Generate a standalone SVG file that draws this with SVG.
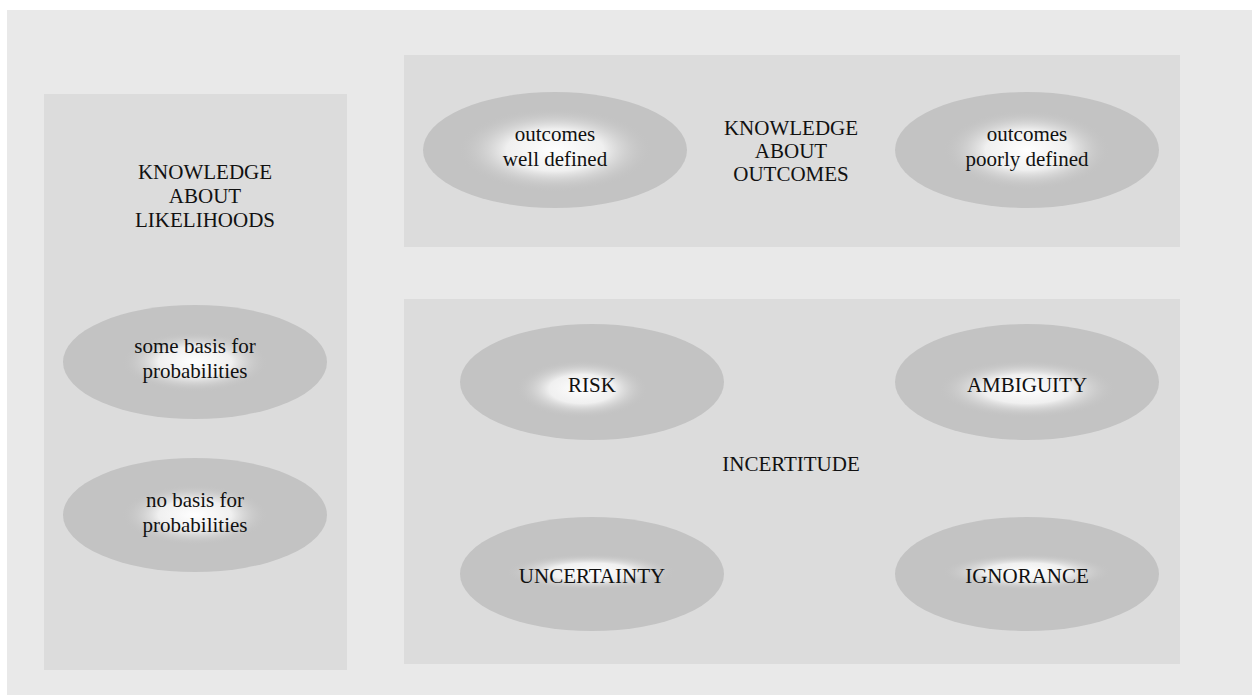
<svg xmlns="http://www.w3.org/2000/svg" width="1252" height="695" viewBox="0 0 1252 695">
  <style>
    .panel { fill: #dcdcdc; }
    .oval { fill: #c3c3c3; }
    .glow { fill: url(#glow); }
    .label { font-family: 'Liberation Serif', 'DejaVu Serif', serif; font-size: 21px; fill: #111; text-anchor: middle; }
  </style>
  <defs>
    <radialGradient id="glow" cx="0.5" cy="0.5" r="0.5">
      <stop offset="0" stop-color="#ffffff" stop-opacity="1"/>
      <stop offset="0.5" stop-color="#f2f2f2" stop-opacity="0.95"/>
      <stop offset="1" stop-color="#c3c3c3" stop-opacity="0"/>
    </radialGradient>
  </defs>

  <!-- backdrop -->
  <rect x="7" y="10" width="1245" height="685" fill="#e9e9e9"/>

  <!-- panels -->
  <g id="panel-likelihoods">
    <rect class="panel" x="44" y="94" width="303" height="576"/>
    <text class="label" x="205" y="179">KNOWLEDGE</text>
    <text class="label" x="205" y="203">ABOUT</text>
    <text class="label" x="205" y="227">LIKELIHOODS</text>
  </g>
  <g id="panel-outcomes">
    <rect class="panel" x="404" y="55" width="776" height="192"/>
    <text class="label" x="791" y="135">KNOWLEDGE</text>
    <text class="label" x="791" y="158">ABOUT</text>
    <text class="label" x="791" y="181">OUTCOMES</text>
  </g>
  <g id="panel-incertitude">
    <rect class="panel" x="404" y="299" width="776" height="365"/>
    <text class="label" x="791" y="471">INCERTITUDE</text>
  </g>

  <!-- outcome nodes -->
  <g id="outcomes-well-defined">
    <ellipse class="oval" cx="555" cy="150" rx="132" ry="58"/>
    <rect class="glow" x="458" y="108" width="194" height="84"/>
    <text class="label" x="555" y="141">outcomes</text>
    <text class="label" x="555" y="166">well defined</text>
  </g>
  <g id="outcomes-poorly-defined">
    <ellipse class="oval" cx="1027" cy="150" rx="132" ry="58"/>
    <rect class="glow" x="944" y="110" width="166" height="80"/>
    <text class="label" x="1027" y="141">outcomes</text>
    <text class="label" x="1027" y="166">poorly defined</text>
  </g>

  <!-- likelihood nodes -->
  <g id="some-basis">
    <ellipse class="oval" cx="195" cy="362" rx="132" ry="57"/>
    <rect class="glow" x="122" y="332" width="146" height="60"/>
    <text class="label" x="195" y="353">some basis for</text>
    <text class="label" x="195" y="378">probabilities</text>
  </g>
  <g id="no-basis">
    <ellipse class="oval" cx="195" cy="515" rx="132" ry="57"/>
    <rect class="glow" x="122" y="485" width="146" height="60"/>
    <text class="label" x="195" y="507">no basis for</text>
    <text class="label" x="195" y="532">probabilities</text>
  </g>

  <!-- incertitude nodes -->
  <g id="risk">
    <ellipse class="oval" cx="592" cy="382" rx="132" ry="58"/>
    <rect class="glow" x="516" y="360" width="132" height="58"/>
    <text class="label" x="592" y="392">RISK</text>
  </g>
  <g id="ambiguity">
    <ellipse class="oval" cx="1027" cy="382" rx="132" ry="58"/>
    <rect class="glow" x="938" y="360" width="178" height="58"/>
    <text class="label" x="1027" y="392">AMBIGUITY</text>
  </g>
  <g id="uncertainty">
    <ellipse class="oval" cx="592" cy="574" rx="132" ry="57"/>
    <rect class="glow" x="506" y="554" width="170" height="36"/>
    <text class="label" x="592" y="583">UNCERTAINTY</text>
  </g>
  <g id="ignorance">
    <ellipse class="oval" cx="1027" cy="574" rx="132" ry="57"/>
    <rect class="glow" x="942" y="554" width="170" height="36"/>
    <text class="label" x="1027" y="583">IGNORANCE</text>
  </g>

  <!-- no connectors in this figure -->
  <g id="connectors"/>
</svg>
